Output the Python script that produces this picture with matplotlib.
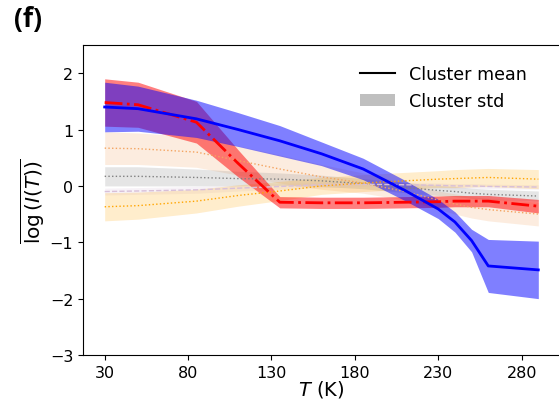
import matplotlib
matplotlib.use("Agg")
import matplotlib.pyplot as plt
from matplotlib.lines import Line2D
from matplotlib.patches import Patch
import numpy as np

# Temperature grid (K)
T = [30, 50, 85, 110, 135, 160, 185, 210, 230, 240, 250, 260, 290]

# Cluster means of log(I(T)) and their standard deviations
peach_mean = [0.67, 0.66, 0.60, 0.45, 0.30, 0.16, 0.05, -0.10, -0.25, -0.32, -0.38, -0.42, -0.50]
peach_std = [0.29, 0.28, 0.27, 0.26, 0.25, 0.22, 0.18, 0.15, 0.16, 0.18, 0.19, 0.20, 0.21]

grey_mean = [0.17, 0.17, 0.15, 0.13, 0.12, 0.09, 0.04, -0.03, -0.08, -0.10, -0.13, -0.15, -0.18]
grey_std = [0.17, 0.17, 0.15, 0.13, 0.11, 0.10, 0.09, 0.09, 0.09, 0.09, 0.09, 0.09, 0.09]

lav_mean = [-0.10, -0.09, -0.07, -0.04, -0.01, 0.02, 0.03, 0.02, 0.01, 0.00, 0.00, -0.01, -0.02]
lav_std = [0.06, 0.06, 0.06, 0.05, 0.05, 0.05, 0.04, 0.04, 0.04, 0.04, 0.04, 0.04, 0.04]

orange_mean = [-0.37, -0.35, -0.27, -0.17, -0.09, 0.00, 0.05, 0.09, 0.12, 0.13, 0.14, 0.15, 0.12]
orange_std = [0.25, 0.24, 0.21, 0.19, 0.17, 0.15, 0.15, 0.15, 0.15, 0.16, 0.16, 0.16, 0.17]

red_mean = [1.48, 1.44, 1.13, 0.40, -0.29, -0.30, -0.30, -0.29, -0.28, -0.27, -0.27, -0.27, -0.36]
red_std = [0.42, 0.40, 0.37, 0.24, 0.10, 0.10, 0.10, 0.10, 0.10, 0.10, 0.10, 0.10, 0.12]

blue_mean = [1.40, 1.37, 1.19, 1.00, 0.80, 0.57, 0.30, -0.08, -0.41, -0.64, -0.97, -1.42, -1.49]
blue_std = [0.44, 0.40, 0.33, 0.30, 0.27, 0.21, 0.19, 0.18, 0.17, 0.18, 0.20, 0.47, 0.51]

x_ticks = [30, 80, 130, 180, 230, 280]
y_ticks = [-3, -2, -1, 0, 1, 2]

series = [
    (peach_mean, peach_std, "sandybrown", ":", 1.0, 0.2),
    (grey_mean, grey_std, "gray", ":", 1.0, 0.2),
    (lav_mean, lav_std, "thistle", "--", 1.0, 0.2),
    (orange_mean, orange_std, "orange", ":", 1.0, 0.2),
    (red_mean, red_std, "red", "-.", 2.0, 0.5),
    (blue_mean, blue_std, "blue", "-", 2.0, 0.5),
]

fig = plt.figure(figsize=(5.59, 4.02), dpi=100)
ax = fig.add_axes([83 / 559, 1 - 356 / 402, 477 / 559, 310 / 402])

Tarr = np.array(T)
for mean, std, color, ls, lw, alpha in series:
    m = np.array(mean)
    s = np.array(std)
    ax.fill_between(Tarr, m - s, m + s, color=color, alpha=alpha, linewidth=0)
for mean, std, color, ls, lw, alpha in series:
    ax.plot(Tarr, mean, color=color, linestyle=ls, linewidth=lw)

ax.set_ylim(-3, 2.5)
ax.set_xticks(x_ticks)
ax.set_yticks(y_ticks)
ax.tick_params(labelsize=11.5)
ax.set_xlabel(r"$T$ (K)", fontsize=14, labelpad=-1)
ax.set_ylabel(r"$\overline{\log\left(I(T)\right)}$", fontsize=14.5, labelpad=2)

handles = [Line2D([], [], color="black", lw=1.5),
           Patch(facecolor="gray", alpha=0.5, edgecolor="none")]
ax.legend(handles, ["Cluster mean", "Cluster std"], loc="upper right",
          frameon=False, fontsize=12.6, bbox_to_anchor=(0.964, 0.985))

fig.text(14 / 559, 1 - 20 / 402, "(f)", fontsize=19, fontweight="bold",
         family=["Open Sans", "DejaVu Sans"], va="center", ha="left")

fig.savefig("out.png", dpi=100)
